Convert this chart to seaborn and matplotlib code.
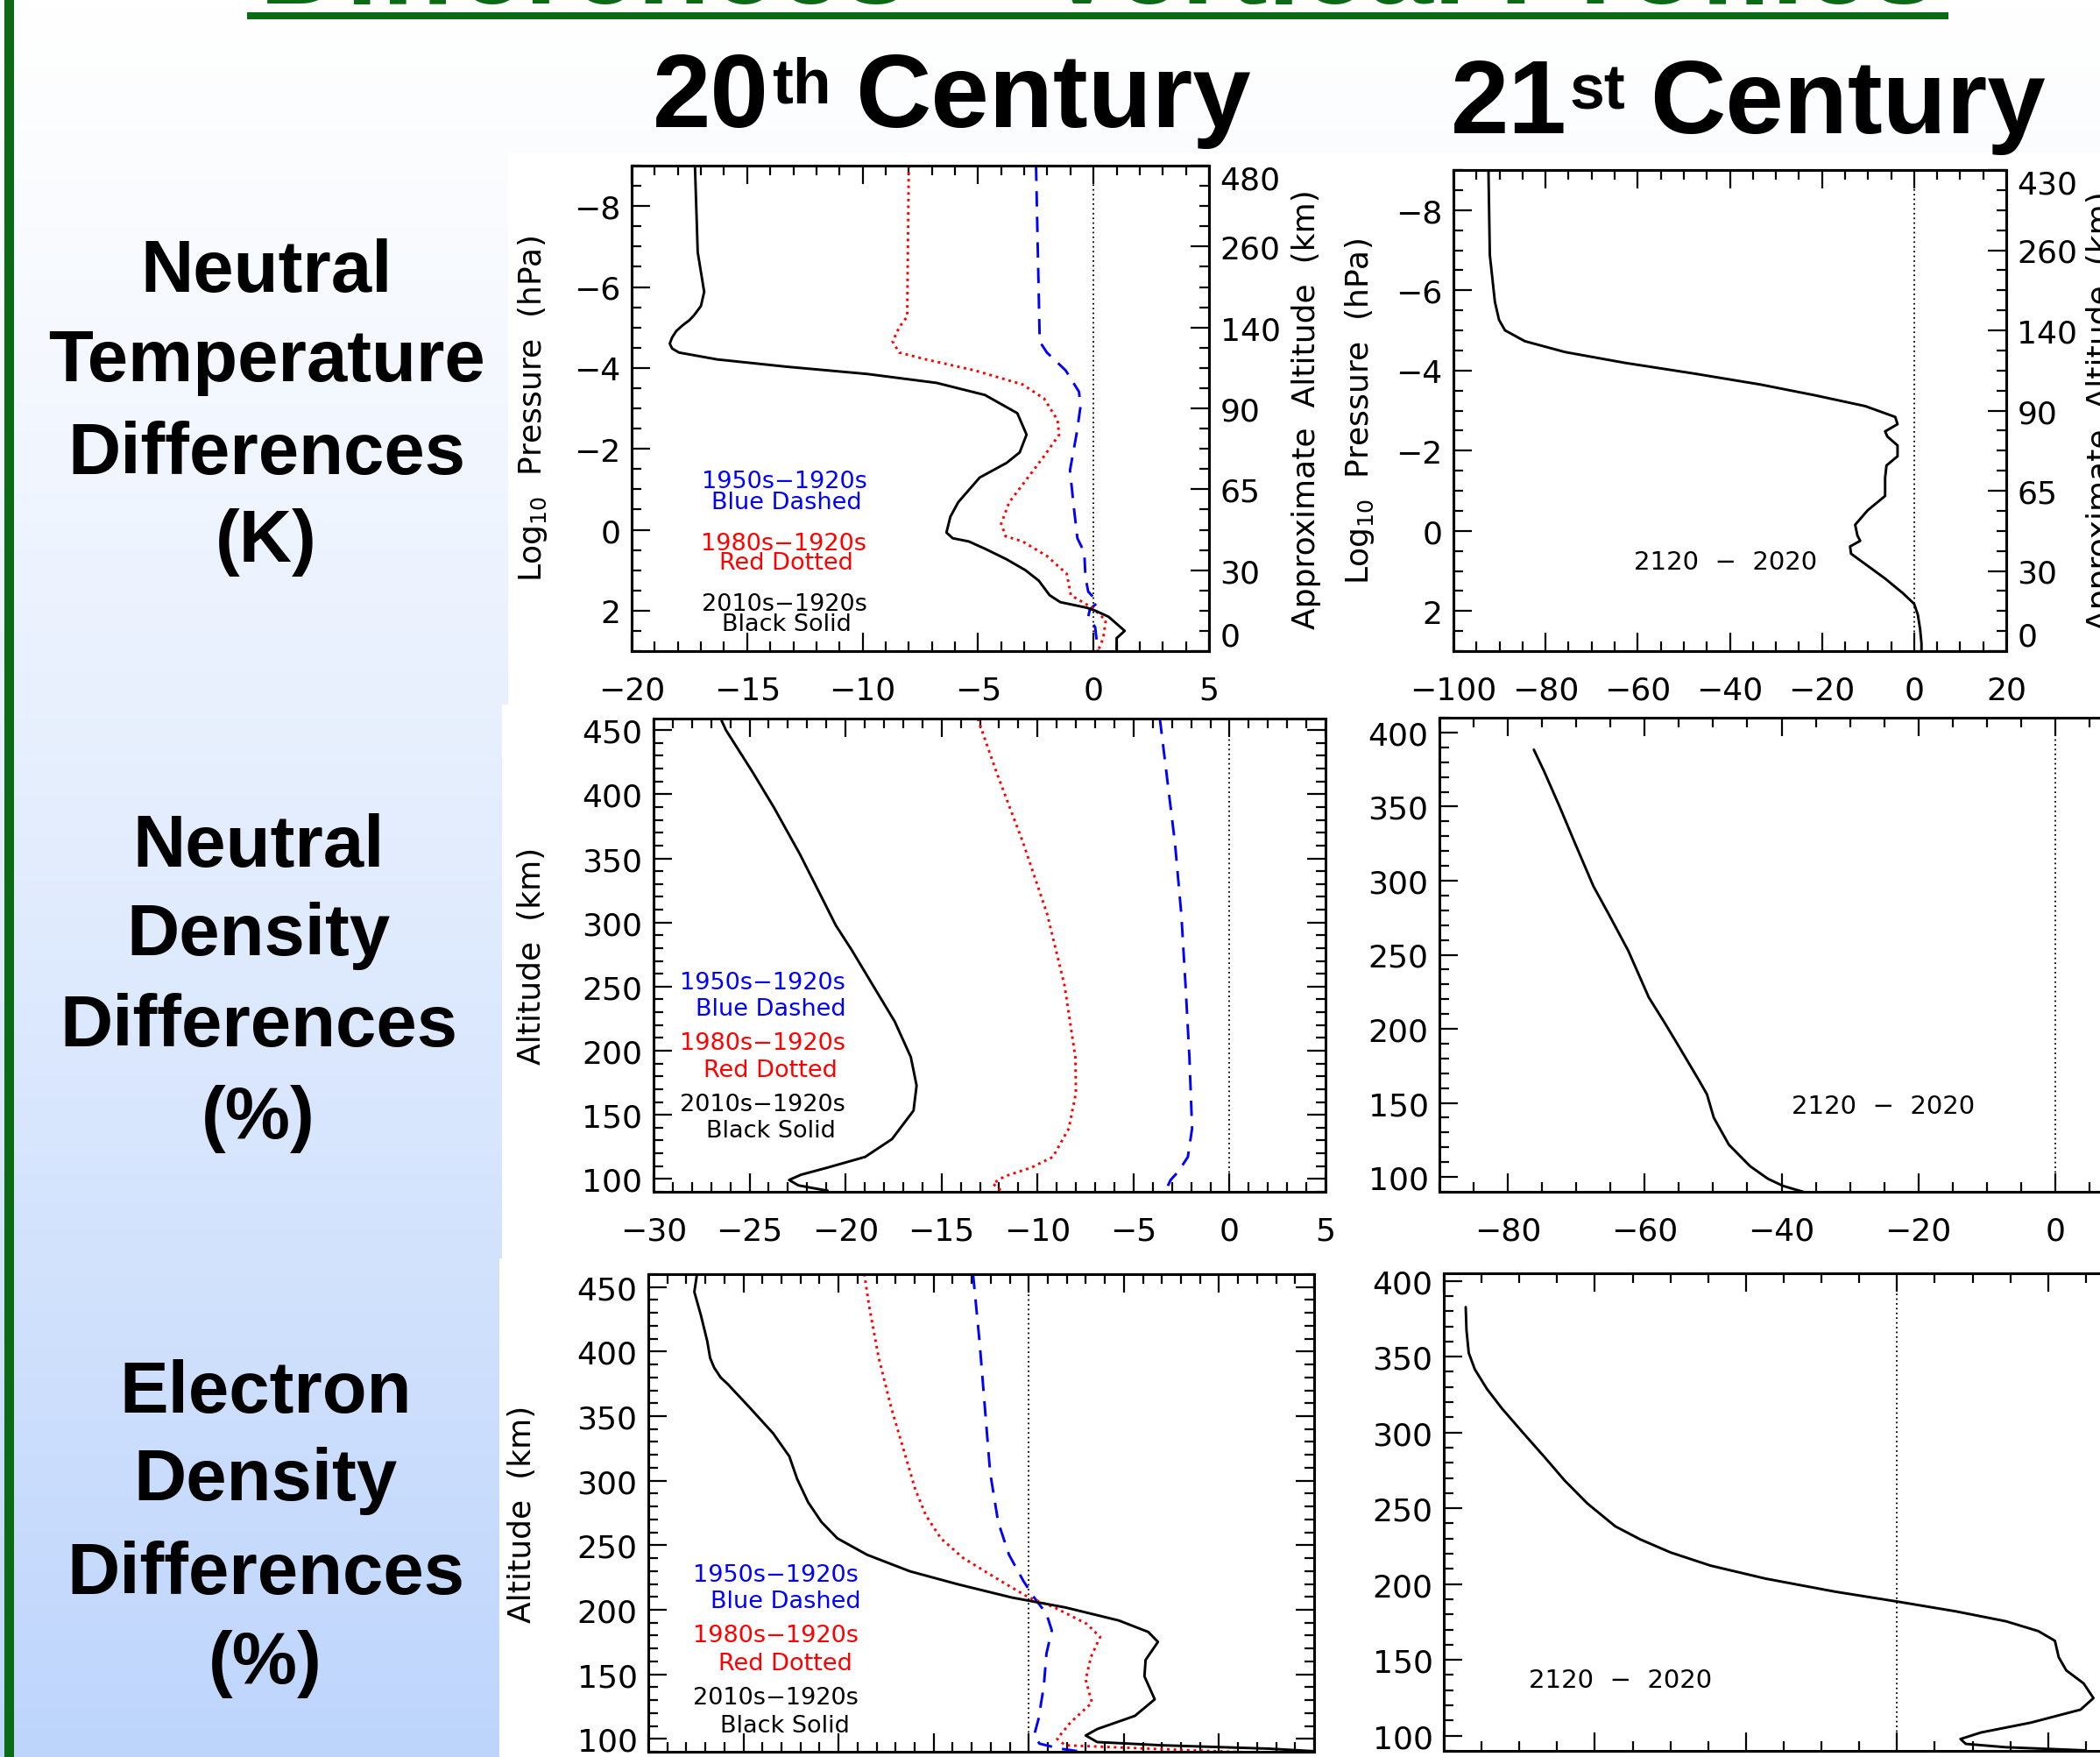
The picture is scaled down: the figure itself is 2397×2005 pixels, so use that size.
import numpy as np
import matplotlib
matplotlib.use("Agg")
import matplotlib.pyplot as plt
from matplotlib.patches import Rectangle
from matplotlib.ticker import MultipleLocator
from matplotlib import font_manager
import seaborn as sns

# ---- data ------------------------------------------------------------------
# Neutral temperature differences (K), 20th century, vs log10 pressure (hPa)
t20_black_p = [-9.0, -6.86, -5.88, -5.53, -5.3, -5.18, -5.05, -4.91, -4.75, -4.60, -4.48, -4.38,
               -4.21, -4.03, -3.85, -3.63, -3.33, -2.88, -2.35, -1.91, -1.65, -1.29, -0.68, -0.32,
               0.07, 0.21, 0.29, 0.47, 0.73, 1.0, 1.26, 1.62, 1.79, 1.93, 2.0, 2.15, 2.5, 2.68, 3.0]
t20_black = [-17.26, -17.14, -16.86, -17.0, -17.3, -17.5, -17.8, -18.07, -18.25, -18.35, -18.25,
             -17.95, -16.3, -13.3, -9.8, -6.8, -4.7, -3.3, -2.9, -3.2, -3.77, -4.93, -5.86, -6.2,
             -6.37, -6.1, -5.4, -4.7, -3.77, -2.95, -2.37, -1.9, -1.44, -0.28, 0.07, 0.65, 1.35,
             1.0, 1.0]
t20_red_p = [-9.0, -5.27, -5.0, -4.65, -4.38, -4.21, -3.94, -3.59, -3.24, -2.71, -2.35, -1.82,
             -1.29, -0.68, -0.15, 0.16, 0.29, 0.65, 1.09, 1.62, 1.93, 2.24, 2.68, 3.0]
t20_red = [-8.0, -8.07, -8.42, -8.7, -8.42, -7.26, -5.16, -3.07, -2.14, -1.56, -1.49, -2.14,
           -2.84, -3.65, -4.0, -3.81, -3.07, -2.02, -1.16, -0.98, -0.05, 0.53, 0.42, 0.19]
t20_blue_p = [-9.0, -4.65, -4.38, -3.94, -3.41, -3.06, -2.35, -1.47, -0.59, 0.21, 0.56, 1.18,
              1.53, 1.79, 1.97, 2.15, 2.41, 3.0]
t20_blue = [-2.49, -2.33, -2.02, -1.21, -0.63, -0.56, -0.74, -1.02, -0.86, -0.70, -0.40, -0.35,
            -0.23, 0.19, -0.16, -0.23, 0.07, 0.19]

# Neutral temperature differences (K), 21st century (2120 - 2020)
t21_p = [-9.0, -6.88, -5.71, -5.26, -5.0, -4.73, -4.46, -4.19, -3.92, -3.65, -3.38, -3.11, -2.84,
         -2.66, -2.48, -2.35, -2.13, -1.86, -1.63, -1.32, -0.87, -0.51, -0.15, 0.12, 0.25, 0.39,
         0.57, 0.83, 1.19, 1.55, 1.82, 2.09, 2.45, 2.81, 3.0]
t21 = [-92.4, -92.1, -91.0, -90.1, -88.8, -84.5, -75.8, -62.8, -47.6, -33.4, -21.5, -10.6, -4.1,
       -3.6, -6.3, -5.8, -3.6, -3.6, -6.0, -6.3, -6.3, -10.1, -12.8, -12.3, -11.7, -13.9,
       -13.7, -10.6, -6.3, -2.5, 0.0, 0.8, 1.3, 1.6, 1.6]

# right-hand "approximate altitude" labels
alt_pos = [-9, -7, -5, -3, -1, 1, 3]
alt20_labels = ["480", "260", "140", "90", "65", "30", "0"]
alt21_labels = ["430", "260", "140", "90", "65", "30", "0"]

# Neutral density differences (%), 20th century, vs altitude (km)
n20_black_z = [457.5, 450, 417.2, 389.4, 353.3, 322.8, 297.8, 278.3, 250.6, 222.8, 195, 172.8,
               153.3, 131.1, 117.2, 108.9, 103.3, 99.2, 95, 90.8]
n20_black = [-26.46, -26.23, -24.84, -23.72, -22.38, -21.35, -20.51, -19.67, -18.56, -17.44, -16.6,
             -16.3, -16.46, -17.58, -18.98, -20.93, -22.32, -22.94, -22.46, -20.93]
n20_red_z = [458.9, 417.2, 361.7, 306.1, 250.6, 195, 167.2, 139.4, 117.2, 108.9, 102.0, 96.4, 89.4]
n20_red = [-13.11, -12.14, -10.74, -9.49, -8.59, -8.03, -8.0, -8.37, -9.2, -10.32, -11.72, -12.33,
           -11.78]
n20_blue_z = [458.9, 417.2, 361.7, 306.1, 250.6, 195, 139.4, 117.2, 106.1, 99.2, 92.2]
n20_blue = [-3.63, -3.29, -2.84, -2.51, -2.29, -2.09, -1.95, -2.17, -2.65, -3.07, -3.29]

# Neutral density differences (%), 21st century
n21_z = [388.4, 373.8, 349.6, 325.4, 296.3, 276.9, 252.7, 221.2, 204.2, 187.3, 165.5, 155.8,
         140.0, 121.8, 107.3, 98.8, 94.0, 89.1]
n21 = [-76.2, -74.7, -72.4, -70.2, -67.5, -65.2, -62.4, -59.4, -57.1, -54.9, -52.1, -50.9,
       -49.9, -47.7, -44.6, -42.0, -39.8, -36.2]

# Electron density differences (%), 20th century
e20_black_z = [460.2, 446.2, 428.4, 408.0, 395.0, 387.6, 380.0, 374.9, 357.1, 336.7, 318.9, 301.1,
               283.3, 268.0, 255.3, 242.6, 229.8, 219.7, 209.5, 201.8, 191.7, 182.8, 175.1, 161.1,
               148.4, 130.6, 117.8, 107.6, 102.6, 97.5, 95.0, 92.4, 90.4]
e20_black = [-17.44, -17.58, -17.24, -16.9, -16.75, -16.54, -16.2, -15.83, -14.7, -13.44, -12.59,
             -12.17, -11.6, -10.9, -10.06, -8.5, -6.25, -3.72, -0.9, 1.92, 4.73, 6.28, 6.79, 6.14,
             6.08, 6.62, 5.58, 3.6, 2.99, 3.6, 6.99, 12.6, 15.0]
e20_red_z = [460.2, 433.5, 395.3, 357.1, 318.9, 293.5, 273.1, 255.3, 240.0, 222.2, 209.5, 201.8,
             189.1, 178.9, 163.6, 145.8, 128.0, 112.8, 100.0, 95.0, 91.2, 89.0]
e20_red = [-8.65, -8.37, -7.89, -7.24, -6.48, -5.97, -5.41, -4.62, -3.44, -1.46, 0.0, 1.35, 3.04,
           3.75, 3.27, 2.99, 3.32, 2.2, 1.49, 1.92, 8.4, 12.6]
e20_blue_z = [460.2, 408.0, 357.1, 306.2, 268.0, 242.6, 222.2, 209.5, 196.8, 184.0, 166.2, 140.8,
              115.3, 102.6, 96.3, 92.4, 89.0]
e20_blue = [-2.93, -2.59, -2.31, -2.03, -1.61, -1.04, -0.28, 0.28, 0.93, 1.21, 0.93, 0.79, 0.51,
            0.28, 0.56, 1.63, 3.32]

# Electron density differences (%), 21st century
e21_z = [382.7, 367.6, 352.5, 341.7, 328.8, 315.8, 298.6, 283.4, 268.3, 253.2, 238.1, 229.5,
         220.9, 212.2, 203.6, 195.0, 188.5, 182.0, 175.5, 169.0, 162.6, 151.8, 143.1, 134.5,
         124.8, 117.2, 108.6, 102.1, 97.8, 94.6, 92.4, 90.3]
e21 = [-57.1, -57.0, -56.7, -55.9, -54.3, -52.3, -49.3, -46.6, -44.0, -41.0, -37.3, -34.0, -30.0,
       -24.7, -17.4, -8.2, 0.0, 7.8, 14.4, 18.7, 20.9, 21.4, 22.4, 24.7, 26.0, 24.3, 17.7, 11.1,
       8.4, 9.1, 14.4, 25.0]

legend_lines = [("1950s\u22121920s", "Blue Dashed", "#0000ff"),
                ("1980s\u22121920s", "Red Dotted", "#ff0000"),
                ("2010s\u22121920s", "Black Solid", "black")]
row_titles = [["Neutral", "Temperature", "Differences", "(K)"],
              ["Neutral", "Density", "Differences", "(%)"],
              ["Electron", "Density", "Differences", "(%)"]]

# ---- setup ------------------------------------------------------------------
sns.set_style("ticks")
plt.rcParams["font.family"] = ["DejaVu Sans"]
plt.rcParams.update({"axes.edgecolor": "black", "text.color": "black",
                     "axes.labelcolor": "black", "xtick.color": "black",
                     "ytick.color": "black"})

W, H = 2397, 2006
fig = plt.figure(figsize=(W / 100, H / 100), dpi=100)


def box(x0, y0, x1, y1):
    return [x0 / W, 1 - y1 / H, (x1 - x0) / W, (y1 - y0) / H]


def fxy(x, y):
    return x / W, 1 - y / H


# slide background: gradient, white plot images, green rules
bg = fig.add_axes([0, 0, 1, 1], zorder=0)
frac = np.linspace(0, 1, 256)[:, None, None]
top_c = np.array([1.0, 1.0, 1.0])
bot_c = np.array([0.745, 0.835, 0.988])
bg.imshow(top_c + (bot_c - top_c) * frac ** 1.15, extent=[0, W, H, 0], aspect="auto")
for x0, y0, y1 in [(580, 176, 805), (573, 805, 1437), (570, 1437, H)]:
    bg.add_patch(Rectangle((x0, y0), W - x0, y1 - y0, color="white", lw=0))
bg.add_patch(Rectangle((5, 0), 11, H, color="#0b6b14", lw=0))
bg.add_patch(Rectangle((282, 15), 1942, 8, color="#0b6b14", lw=0))
bg.set_xlim(0, W)
bg.set_ylim(H, 0)
bg.axis("off")

names = {f.name for f in font_manager.fontManager.ttflist}
narrow = "Liberation Sans Narrow" in names
tfam = "Liberation Sans Narrow" if narrow else "Liberation Sans"
tsize = 98 if narrow else 86

# cut-off slide title
fig.text(*fxy(1253, 4), "Differences \u2013 Vertical Profiles", color="#0b6b14",
         fontsize=98, fontweight="bold", family="Liberation Sans", ha="center", va="baseline")

# column headers with superscripts
for x0, yb, num, sup in [(745, 145, "20", "th"), (1656, 152, "21", "st")]:
    t1 = fig.text(*fxy(x0, yb), num, fontsize=tsize, fontweight="bold", family=tfam,
                  ha="left", va="baseline")
    t2 = bg.annotate(sup, xy=(1, 1), xycoords=t1, xytext=(2, -4), textcoords="offset points",
                     fontsize=tsize * 0.6, fontweight="bold", family=tfam, ha="left", va="top",
                     annotation_clip=False)
    bg.annotate("Century", xy=(1, 0), xycoords=(t2, t1), xytext=(20, 0),
                textcoords="offset points", fontsize=tsize, fontweight="bold", family=tfam,
                ha="left", va="bottom", annotation_clip=False)

# row headers
row_layout = [(304, [303, 405, 511, 611]), (295, [959, 1060, 1164, 1269]),
              (303, [1582, 1682, 1789, 1891])]
for lines, (xc, ys) in zip(row_titles, row_layout):
    for s, yc in zip(lines, ys):
        fig.text(*fxy(xc, yc + 30), s, fontsize=60, fontweight="bold", family="Liberation Sans",
                 ha="center", va="baseline")


def style_axes(ax, xmaj, xmin, ymaj, ymin, right=True, xlabels=True):
    ax.xaxis.set_major_locator(MultipleLocator(xmaj))
    ax.xaxis.set_minor_locator(MultipleLocator(xmin))
    ax.yaxis.set_major_locator(MultipleLocator(ymaj))
    ax.yaxis.set_minor_locator(MultipleLocator(ymin))
    ax.tick_params(which="both", direction="in", top=True, right=right, width=1.6,
                   color="black", labelcolor="black", labelsize=26, labelbottom=xlabels)
    ax.tick_params(which="major", length=15)
    ax.tick_params(which="minor", length=8)
    ax.tick_params(axis="x", pad=20)
    ax.tick_params(axis="y", pad=9)
    for s in ax.spines.values():
        s.set_linewidth(2.2)
    ax.set_xlabel("")
    ax.set_ylabel("")


def curve(ax, x, y, kind):
    styles = {"black": dict(color="black", linestyle="-"),
              "red": dict(color="#ff0000", linestyle=(0, (1, 1.6))),
              "blue": dict(color="#0000ff", linestyle=(0, (6, 4)))}
    sns.lineplot(x=x, y=y, sort=False, estimator=None, lw=2.1, ax=ax, legend=False,
                 **styles[kind])


def legend_text(ax, x, ys, dx_second, size=19.5):
    for (l1, l2, c), (y1, y2) in zip(legend_lines, ys):
        ax.text(x, y1, l1, color=c, fontsize=size, ha="center", va="center")
        ax.text(x + dx_second, y2, l2, color=c, fontsize=size, ha="center", va="center")


def ylab(ax, text, xpos):
    ax.set_ylabel(text, fontsize=26, color="black")
    ax.yaxis.set_label_coords(xpos, 0.5)
    ax.yaxis.label.set_verticalalignment("center")


def altitude_axis(ax, labels, xpos):
    ax2 = ax.twinx()
    ax2.set_ylim(3, -9)
    ax2.set_yticks(alt_pos)
    ax2.set_yticklabels(labels)
    ax2.yaxis.set_minor_locator(MultipleLocator(0.5))
    ax2.tick_params(which="both", direction="in", left=False, right=True, width=1.6,
                    color="black", labelcolor="black", labelsize=26, pad=9)
    ax2.tick_params(which="major", length=15)
    ax2.tick_params(which="minor", length=8)
    tl = ax2.get_yticklabels()
    tl[0].set_verticalalignment("top")
    tl[-1].set_verticalalignment("bottom")
    for s in ax2.spines.values():
        s.set_linewidth(2.2)
    ax2.set_ylabel("Approximate  Altitude  (km)", fontsize=26, color="black")
    ax2.yaxis.set_label_coords(xpos, 0.5)
    ax2.yaxis.label.set_verticalalignment("center")


pres_label = "Log$_{10}$  Pressure  (hPa)"
alt_label = "Altitude  (km)"

# ---- row 1: neutral temperature ---------------------------------------------
ax = fig.add_axes(box(721, 190, 1380, 744), zorder=1)
ax.axvline(0, color="black", lw=1.3, linestyle=(0, (1, 2)))
curve(ax, t20_blue, t20_blue_p, "blue")
curve(ax, t20_red, t20_red_p, "red")
curve(ax, t20_black, t20_black_p, "black")
ax.set_xlim(-20, 5)
ax.set_ylim(3, -9)
style_axes(ax, 5, 1, 2, 0.5, right=False)
legend_text(ax, -13.4, [(-1.21, -0.68), (0.34, 0.82), (1.84, 2.32)], 0.1)
ylab(ax, pres_label, -0.171)
altitude_axis(ax, alt20_labels, 1.168)

ax = fig.add_axes(box(1659, 195, 2290, 744), zorder=1)
ax.axvline(0, color="black", lw=1.3, linestyle=(0, (1, 2)))
curve(ax, t21, t21_p, "black")
ax.set_xlim(-100, 20)
ax.set_ylim(3, -9)
style_axes(ax, 20, 5, 2, 0.5, right=False)
ax.text(-41, 0.77, "2120  \u2212  2020", fontsize=21, ha="center", va="center")
ylab(ax, pres_label, -0.17)
altitude_axis(ax, alt21_labels, 1.171)

# ---- row 2: neutral density -------------------------------------------------
ax = fig.add_axes(box(746, 821, 1513, 1361), zorder=1)
ax.axvline(0, color="black", lw=1.3, linestyle=(0, (1, 2)))
curve(ax, n20_blue, n20_blue_z, "blue")
curve(ax, n20_red, n20_red_z, "red")
curve(ax, n20_black, n20_black_z, "black")
ax.set_xlim(-30, 5)
ax.set_ylim(90, 459)
style_axes(ax, 5, 1, 50, 10)
legend_text(ax, -24.3, [(253.3, 232.5), (206, 185), (158, 138)], 0.4)
ylab(ax, alt_label, -0.181)

ax = fig.add_axes(box(1643, 820, 2424, 1361), zorder=1)
ax.axvline(0, color="black", lw=1.3, linestyle=(0, (1, 2)))
curve(ax, n21, n21_z, "black")
ax.set_xlim(-90, 10)
ax.set_ylim(90, 410)
style_axes(ax, 20, 5, 50, 10)
ax.text(-25.2, 148, "2120  \u2212  2020", fontsize=21, ha="center", va="center")

# ---- row 3: electron density (x labels fall below the slide edge) -----------
ax = fig.add_axes(box(740, 1455, 1500, 2000), zorder=1)
ax.axvline(0, color="black", lw=1.3, linestyle=(0, (1, 2)))
curve(ax, e20_blue, e20_blue_z, "blue")
curve(ax, e20_red, e20_red_z, "red")
curve(ax, e20_black, e20_black_z, "black")
ax.set_xlim(-20, 15)
ax.set_ylim(90, 460)
style_axes(ax, 5, 1, 50, 10, xlabels=False)
legend_text(ax, -13.3, [(227.3, 207), (180, 158.6), (131.9, 110.7)], 0.5)
ylab(ax, alt_label, -0.189)

ax = fig.add_axes(box(1648, 1454, 2424, 1999), zorder=1)
ax.axvline(0, color="black", lw=1.3, linestyle=(0, (1, 2)))
curve(ax, e21, e21_z, "black")
ax.set_xlim(-60, 30)
ax.set_ylim(90, 405)
style_axes(ax, 20, 5, 50, 10, xlabels=False)
ax.text(-36.6, 136.7, "2120  \u2212  2020", fontsize=21, ha="center", va="center")

fig.savefig("out.png", dpi=100)
